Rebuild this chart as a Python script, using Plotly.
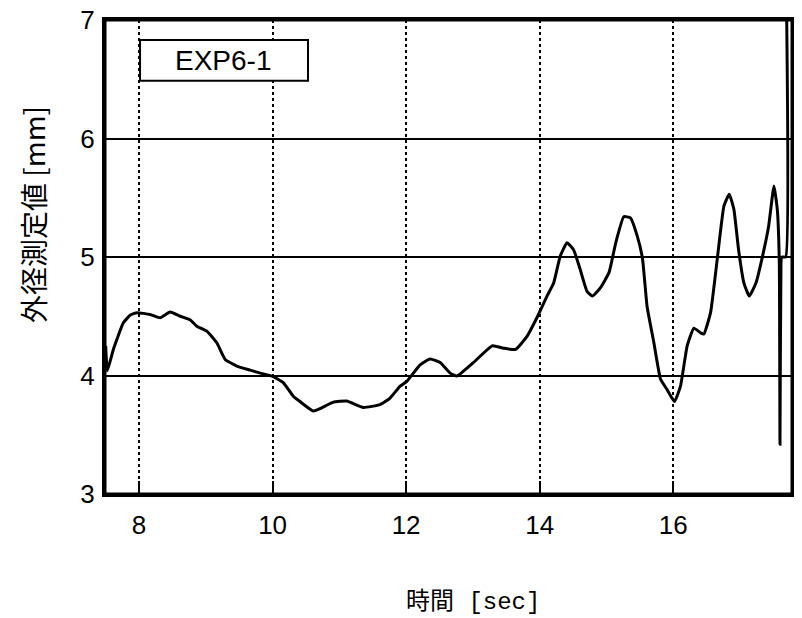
import plotly.graph_objects as go

time_sec = [7.50, 7.525, 7.615, 7.765, 7.87, 7.97, 8.165, 8.315, 8.465, 8.615, 8.765, 8.865,
            9.015, 9.165, 9.29, 9.465, 9.665, 9.815, 10.01, 10.16, 10.31, 10.41, 10.61, 10.71,
            10.91, 11.11, 11.36, 11.61, 11.76, 11.91, 12.01, 12.21, 12.36, 12.51, 12.66, 12.76,
            13.01, 13.29, 13.46, 13.64, 13.81, 13.97, 14.11, 14.21, 14.31, 14.41, 14.51, 14.61,
            14.71, 14.79, 14.91, 15.04, 15.14, 15.26, 15.36, 15.46, 15.54, 15.61, 15.71, 15.81,
            15.91, 16.02, 16.11, 16.21, 16.31, 16.41, 16.46, 16.56, 16.66, 16.76, 16.84, 16.91,
            16.98, 17.06, 17.14, 17.24, 17.34, 17.43, 17.51, 17.56, 17.59, 17.60, 17.615, 17.625,
            17.685, 17.69]
diameter_mm = [4.25, 4.04, 4.22, 4.445, 4.51, 4.53, 4.515, 4.487, 4.535, 4.50, 4.47, 4.416,
               4.374, 4.276, 4.135, 4.08, 4.045, 4.02, 3.99, 3.94, 3.825, 3.78, 3.70, 3.72,
               3.775, 3.785, 3.73, 3.755, 3.81, 3.91, 3.95, 4.09, 4.14, 4.11, 4.02, 3.995,
               4.11, 4.25, 4.23, 4.22, 4.33, 4.50, 4.67, 4.78, 5.01, 5.12, 5.06, 4.89,
               4.71, 4.67, 4.74, 4.87, 5.12, 5.34, 5.33, 5.18, 4.99, 4.58, 4.28, 3.97,
               3.88, 3.78, 3.91, 4.25, 4.40, 4.36, 4.35, 4.53, 4.98, 5.43, 5.53, 5.40,
               5.06, 4.78, 4.67, 4.78, 5.01, 5.26, 5.60, 5.40, 4.95, 3.42, 4.95, 5.00,
               5.00, 7.50]

x_ticks = [8, 10, 12, 14, 16]
y_ticks = [3, 4, 5, 6, 7]
legend_label = "EXP6-1"
x_title = "時間 [sec]"
y_title = "外径測定値 [mm]"

fig = go.Figure()
fig.add_trace(go.Scatter(x=time_sec, y=diameter_mm, mode="lines",
                         line=dict(color="black", width=3, shape="spline", smoothing=0.4),
                         showlegend=False))

tick_font = dict(family="Liberation Sans, Arial, sans-serif", size=26, color="black")

# page body has an 8px margin; figure is sized/offset to compensate
fig.update_layout(
    width=794, height=610,
    margin=dict(l=97, r=10, t=12, b=124, autoexpand=False),
    paper_bgcolor="white", plot_bgcolor="white",
    xaxis=dict(range=[7.49, 17.78], tickvals=x_ticks, ticktext=[str(v) for v in x_ticks],
               showgrid=True, gridcolor="black", gridwidth=1.5, griddash="dot",
               showline=True, linecolor="black", linewidth=3, mirror=True,
               ticks="inside", ticklen=13, tickwidth=2, tickcolor="black",
               tickfont=tick_font, zeroline=False, ticklabelstandoff=6, automargin=False,
               ticklabeloverflow="allow"),
    yaxis=dict(range=[3, 7], tickvals=y_ticks, ticktext=[str(v) for v in y_ticks],
               showgrid=True, gridcolor="black", gridwidth=2,
               showline=True, linecolor="black", linewidth=3, mirror=True,
               ticks="inside", ticklen=5, tickwidth=2, tickcolor="black",
               tickfont=tick_font, zeroline=False, ticklabelstandoff=2, automargin=False,
               ticklabeloverflow="allow"),
)

# plot frame
fig.add_shape(type="rect", xref="paper", yref="paper", x0=0, x1=1, y0=0, y1=1,
              line=dict(color="black", width=3), layer="above")

# legend-like label box
fig.add_shape(type="rect", xref="paper", yref="paper",
              x0=0.051, x1=0.2955, y0=0.872, y1=0.958,
              line=dict(color="black", width=2), fillcolor="white", layer="above")
fig.add_annotation(text=legend_label, xref="paper", yref="paper", x=0.1732, y=0.9156,
                   showarrow=False, xanchor="center", yanchor="middle",
                   font=dict(family="Liberation Sans, Arial, sans-serif", size=28, color="black"))

fig.add_annotation(text=y_title, xref="paper", yref="paper", x=-0.1048, y=0.5886,
                   textangle=-90, showarrow=False, xanchor="center", yanchor="middle",
                   font=dict(family="Noto Sans CJK JP, sans-serif", size=28, color="black"))
fig.add_annotation(text=x_title, xref="paper", yref="paper", x=0.535, y=-0.228,
                   showarrow=False, xanchor="center", yanchor="middle",
                   font=dict(family="Liberation Mono, Noto Sans CJK JP, monospace", size=24, color="black"))

fig.write_html("out.html")
